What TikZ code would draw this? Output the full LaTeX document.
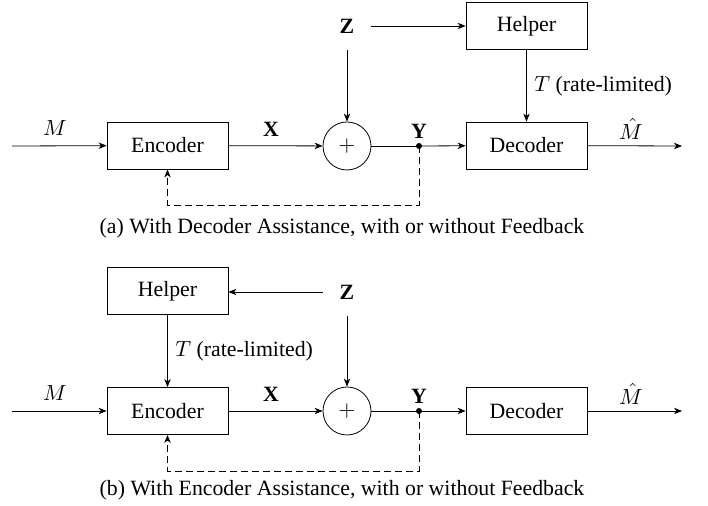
\documentclass[tikz,border=0pt]{standalone}
\usepackage{fontspec}
\setmainfont{Liberation Serif}
\usetikzlibrary{arrows.meta}
\begin{document}
\begin{tikzpicture}[x=0.5pt,y=-0.5pt,
  every node/.style={font=\fontsize{10.9}{13}\selectfont},
  blk/.style={draw, minimum width=60.5pt, minimum height=23.5pt, inner sep=0pt},
  sumnode/.style={draw, circle, minimum size=24pt, inner sep=0pt},
  src/.style={minimum size=24pt, inner sep=0pt},
  conn/.style={-{Stealth[length=4pt,width=3.2pt,inset=1.2pt]}},
  fb/.style={conn, dash pattern=on 3.5pt off 2pt},
  lbl/.style={inner sep=0pt},
  dotmark/.style={circle, fill, inner sep=0pt, minimum size=3pt}]
\useasboundingbox (0,0) rectangle (708,506);

% ---------- (a) helper at the decoder ----------
\coordinate (ina) at (12,146);
\coordinate (outa) at (682,146);
\node[blk] (enca) at (167.5,145.5) {Encoder};
\node[sumnode] (suma) at (347,146) {$+$};
\node[blk] (deca) at (526.5,145.5) {Decoder};
\node[blk] (helpa) at (526.5,26) {Helper};
\node[src] (za) at (347,26) {\textbf{Z}};
\node[dotmark] (ya) at (419,146) {};
\coordinate (fba1) at (419,205);
\coordinate (fba2) at (167.5,205);

\draw[conn] (ina) -- (enca);
\draw[conn] (enca) -- (suma);
\draw[conn] (za) -- (suma);
\draw[conn] (za) -- (helpa);
\draw (suma) -- (ya.center);
\draw[conn] (ya.center) -- (deca);
\draw[conn] (helpa) -- (deca);
\draw[conn] (deca) -- (outa);
\draw[fb] (ya.center) -- (fba1) -- (fba2) -- (enca.south);

\node[lbl] at (55,128) {$M$};
\node[lbl] at (271,129) {\textbf{X}};
\node[lbl] at (419,131) {\textbf{Y}};
\node[lbl] at (631,129) {$\hat{M}$};
\node[lbl, anchor=west] at (534,86) {$T$ (rate-limited)};
\node[lbl] (capa) at (342,228) {(a) With Decoder Assistance, with or without Feedback};

% ---------- (b) helper at the encoder ----------
\coordinate (inb) at (12,411);
\coordinate (outb) at (682,411);
\node[blk] (encb) at (167.5,411) {Encoder};
\node[sumnode] (sumb) at (347,411) {$+$};
\node[blk] (decb) at (526.5,411) {Decoder};
\node[blk] (helpb) at (167.5,291) {Helper};
\node[src] (zb) at (347,292) {\textbf{Z}};
\node[dotmark] (yb) at (419,411) {};
\coordinate (fbb1) at (419,471);
\coordinate (fbb2) at (167.5,471);

\draw[conn] (inb) -- (encb);
\draw[conn] (encb) -- (sumb);
\draw[conn] (zb) -- (sumb);
\draw[conn] (zb) -- (helpb.east |- zb);
\draw (sumb) -- (yb.center);
\draw[conn] (yb.center) -- (decb);
\draw[conn] (helpb) -- (encb);
\draw[conn] (decb) -- (outb);
\draw[fb] (yb.center) -- (fbb1) -- (fbb2) -- (encb.south);

\node[lbl] at (55,393) {$M$};
\node[lbl] at (271,394) {\textbf{X}};
\node[lbl] at (419,396) {\textbf{Y}};
\node[lbl] at (631,394) {$\hat{M}$};
\node[lbl, anchor=west] at (175,351) {$T$ (rate-limited)};
\node[lbl] (capb) at (342,490) {(b) With Encoder Assistance, with or without Feedback};
\end{tikzpicture}
\end{document}
